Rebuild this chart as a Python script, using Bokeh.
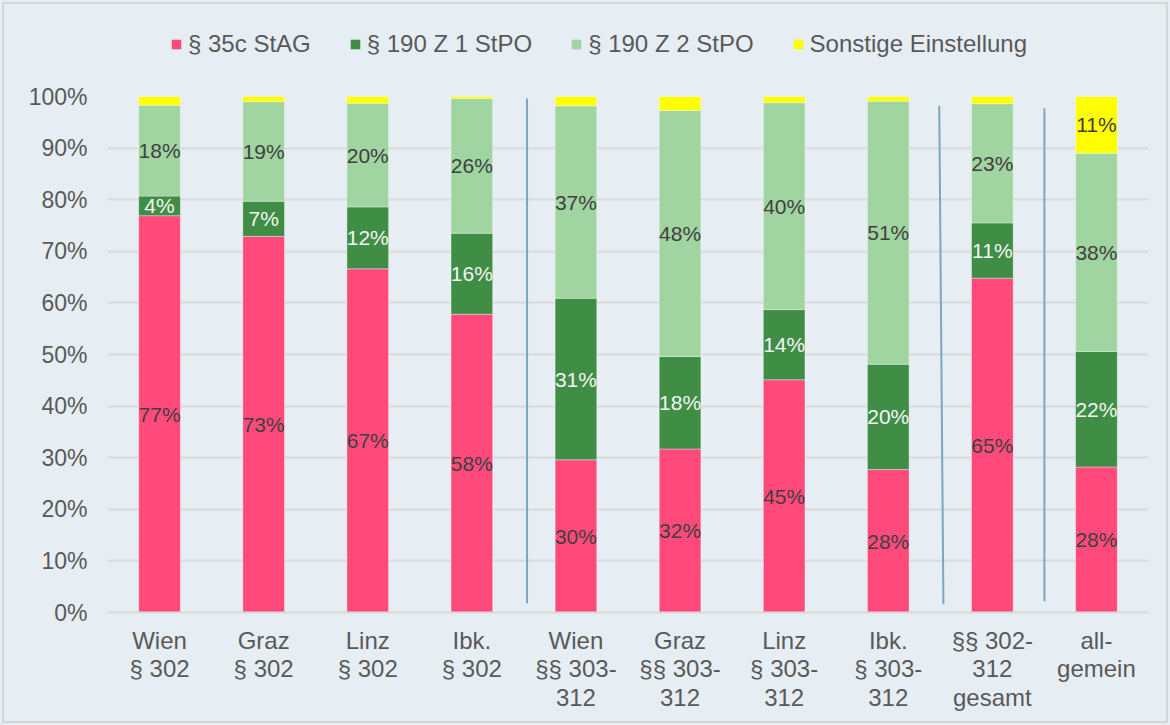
from bokeh.plotting import figure
from bokeh.layouts import column
from bokeh.models import (ColumnDataSource, FixedTicker, PrintfTickFormatter,
                          Legend, LegendItem, Range1d)
from bokeh.embed import file_html
from bokeh.resources import INLINE
from bokeh.core.properties import value

# ---------------- data ----------------
categories = ["Wien\n§ 302", "Graz\n§ 302", "Linz\n§ 302", "Ibk.\n§ 302",
              "Wien\n§§ 303-\n312", "Graz\n§§ 303-\n312", "Linz\n§ 303-\n312",
              "Ibk.\n§ 303-\n312", "§§ 302-\n312\ngesamt", "all-\ngemein"]
stag = [76.9, 72.9, 66.6, 57.8, 29.6, 31.7, 45.1, 27.7, 64.8, 28.2]
z1_stpo = [3.8, 6.8, 12.0, 15.7, 31.3, 17.9, 13.6, 20.4, 10.7, 22.4]
z2_stpo = [17.6, 19.3, 20.1, 26.1, 37.3, 47.7, 40.1, 51.0, 23.1, 38.4]
sonstige = [1.7, 1.0, 1.3, 0.4, 1.8, 2.7, 1.2, 0.9, 1.4, 11.0]
series_names = ["§ 35c StAG", "§ 190 Z 1 StPO", "§ 190 Z 2 StPO", "Sonstige Einstellung"]
y_ticks = [0, 10, 20, 30, 40, 50, 60, 70, 80, 90, 100]

# ---------------- styles ----------------
colors = ["#FF4A7B", "#408D46", "#A0D4A0", "#FFFF00"]
label_colors = ["#404040", "#F4F4F4", "#404040", "#404040"]
BG = "#E6EEF4"
GRID = "#D9D9D9"
FONT = "Liberation Sans"

xs = [i + 0.5 for i in range(len(categories))]
keys = ["stag", "z1", "z2", "sonst"]
series = [stag, z1_stpo, z2_stpo, sonstige]
source = ColumnDataSource(dict(x=xs, stag=stag, z1=z1_stpo, z2=z2_stpo, sonst=sonstige))

# ---------------- legend strip ----------------
lf = figure(width=1170, height=80, x_range=Range1d(0, 1), y_range=Range1d(0, 1),
            x_axis_type=None, y_axis_type=None,
            output_backend="svg", toolbar_location=None,
            min_border_left=0, min_border_right=0, min_border_top=0, min_border_bottom=0)
lf.background_fill_alpha = 0
lf.border_fill_alpha = 0
lf.outline_line_color = None
lf.grid.grid_line_color = None
# zero-height swatch renderers (only used for the legend keys)
swatches = [lf.vbar(x=[0.5], bottom=[0], top=[0], width=0.01, color=c, line_color=None)
            for c in colors]
legend = Legend(items=[LegendItem(label=n, renderers=[r]) for n, r in zip(series_names, swatches)],
                orientation="horizontal", location=(63, 22), padding=0, margin=0,
                spacing=38, label_standoff=6, glyph_width=12, glyph_height=12,
                label_height=28,
                background_fill_alpha=0, border_line_color=None,
                label_text_font=FONT, label_text_font_size="24px",
                label_text_color="#595959")
lf.add_layout(legend)

# ---------------- main chart ----------------
p = figure(width=1170, height=645,
           x_range=Range1d(0, len(categories)), y_range=Range1d(0, 100),
           output_backend="svg", toolbar_location=None,
           min_border_left=107, min_border_right=22,
           min_border_top=16, min_border_bottom=113)
p.background_fill_alpha = 0
p.border_fill_alpha = 0
p.outline_line_color = None

p.vbar_stack(keys, x="x", width=0.4, color=colors, source=source,
             line_color="#FFFFFF", line_alpha=0.35, line_width=1)

# data labels
bottom = [0.0] * len(categories)
for k, vals in enumerate(series):
    lx, ly, lt = [], [], []
    for i, v in enumerate(vals):
        if v >= 3:
            lx.append(xs[i])
            ly.append(bottom[i] + v / 2)
            lt.append(f"{v:.0f}%")
        bottom[i] += v
    p.text(x=lx, y=ly, text=lt, text_align="center", text_baseline="middle",
           text_font=value(FONT), text_font_size="21px", text_color=label_colors[k])

# separator lines
p.segment(x0=[4.03, 7.99, 9.0], y0=[99.6, 98.2, 97.7],
          x1=[4.03, 8.03, 9.0], y1=[1.8, 1.6, 2.2],
          line_color="#7BA7C0", line_width=2)

# axes
p.yaxis.ticker = FixedTicker(ticks=y_ticks)
p.yaxis.formatter = PrintfTickFormatter(format="%d%%")
p.yaxis.axis_line_color = None
p.yaxis.major_tick_line_color = None
p.yaxis.minor_tick_line_color = None
p.yaxis.major_label_standoff = 14
p.yaxis.major_label_text_font = FONT
p.yaxis.major_label_text_font_size = "23px"
p.yaxis.major_label_text_color = "#595959"

p.xaxis.ticker = FixedTicker(ticks=xs)
p.xaxis.major_label_overrides = {x: c for x, c in zip(xs, categories)}
p.xaxis.axis_line_color = GRID
p.xaxis.axis_line_width = 2
p.xaxis.major_tick_line_color = None
p.xaxis.minor_tick_line_color = None
p.xaxis.major_label_standoff = 8
p.xaxis.major_label_text_font = FONT
p.xaxis.major_label_text_font_size = "24px"
p.xaxis.major_label_text_color = "#595959"
p.xaxis.major_label_text_line_height = 1.06

p.xgrid.grid_line_color = None
p.ygrid.grid_line_color = GRID
p.ygrid.grid_line_width = 2

layout = column(lf, p, spacing=0)
layout.styles = {"outline": "2px solid #D6D6D6", "outline-offset": "-4px",
                 "background-color": BG}

open("out.html", "w").write(file_html(layout, INLINE))
